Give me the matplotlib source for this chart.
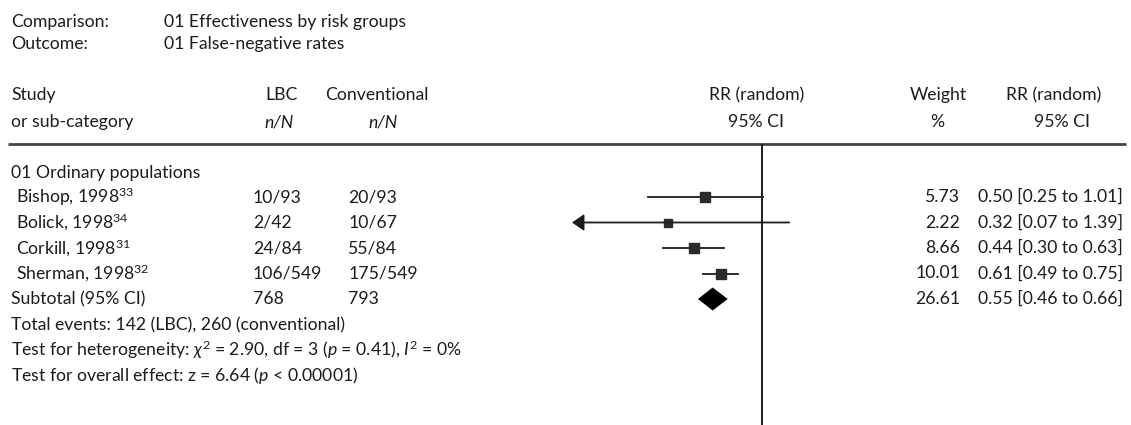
import matplotlib
matplotlib.use("Agg")
import matplotlib.pyplot as plt

plt.rcParams["font.family"] = ["Lato", "DejaVu Sans"]
plt.rcParams["mathtext.fontset"] = "custom"
plt.rcParams["mathtext.rm"] = "Lato"
plt.rcParams["mathtext.it"] = "Lato:italic"

# ------------------------------------------------------------------ data ----
studies = ["Bishop, 1998", "Bolick, 1998", "Corkill, 1998", "Sherman, 1998"]
refs = ["33", "34", "31", "32"]
lbc_n = [10, 2, 24, 106]
lbc_N = [93, 42, 84, 549]
conv_n = [20, 10, 55, 175]
conv_N = [93, 67, 84, 549]
rr = [0.50, 0.32, 0.44, 0.61]
rr_lo = [0.25, 0.07, 0.30, 0.49]
rr_hi = [1.01, 1.39, 0.63, 0.75]
weight = [5.73, 2.22, 8.66, 10.01]

sub_rr, sub_lo, sub_hi, sub_weight = 0.55, 0.46, 0.66, 26.61
sub_lbc_N, sub_conv_N = 768, 793
x_range = (0.1, 10)

# ---------------------------------------------------------------- layout ----
W, H = 1131, 425
FS = 12.7
INK = "#1c1c1c"

fig = plt.figure(figsize=(W / 100, H / 100), dpi=100)
bg = fig.add_axes([0, 0, 1, 1])
bg.set_xlim(0, W)
bg.set_ylim(H, 0)
bg.axis("off")


def txt(x, y, s, ha="left", **kw):
    bg.text(x, y, s, ha=ha, va="center", fontsize=FS, color=INK, **kw)


# header block
txt(11, 22, "Comparison:")
txt(164, 22, "01 Effectiveness by risk groups")
txt(11, 44, "Outcome:")
txt(164, 44, "01 False-negative rates")

txt(11, 95, "Study")
txt(11, 122, "or sub-category")
txt(298, 95, "LBC", ha="right")
txt(294, 122, "n/N", ha="right", style="italic")
txt(325, 95, "Conventional")
txt(398, 122, "n/N", ha="right", style="italic")
txt(757, 95, "RR (random)", ha="center")
txt(784, 122, "95% CI", ha="right")
txt(938, 95, "Weight", ha="center")
txt(937, 122, "%", ha="center")
txt(1054, 95, "RR (random)", ha="center")
txt(1090, 122, "95% CI", ha="right")

bg.plot([8, 1126], [144, 144], color="#444444", lw=2, solid_capstyle="butt")

# study rows
row0, step = 197, 25.5
txt(11, 173, "01 Ordinary populations")
for i, name in enumerate(studies):
    y = row0 + i * step
    txt(16, y, f"{name}$^{{\\mathrm{{{refs[i]}}}}}$")
    txt(253, y, f"{lbc_n[i]}/{lbc_N[i]}")
    txt(348, y, f"{conv_n[i]}/{conv_N[i]}")
    txt(960, y, f"{weight[i]:.2f}", ha="right")
    txt(978, y, f"{rr[i]:.2f} [{rr_lo[i]:.2f} to {rr_hi[i]:.2f}]")

y_sub = row0 + len(studies) * step
txt(11, y_sub, "Subtotal (95% CI)")
txt(253, y_sub, f"{sub_lbc_N}")
txt(348, y_sub, f"{sub_conv_N}")
txt(960, y_sub, f"{sub_weight:.2f}", ha="right")
txt(978, y_sub, f"{sub_rr:.2f} [{sub_lo:.2f} to {sub_hi:.2f}]")

txt(11, y_sub + 26, f"Total events: {sum(lbc_n)} (LBC), {sum(conv_n)} (conventional)")
txt(11, y_sub + 51, "Test for heterogeneity: $\\chi^2$ = 2.90, df = 3 ($p$ = 0.41), $I^2$ = 0%")
txt(11, y_sub + 76, "Test for overall effect: z = 6.64 ($p$ < 0.00001)")

# ---------------------------------------------------------------- forest ----
ax = fig.add_axes([572 / W, 0, (952 - 572) / W, 1])
ax.set_xscale("log")
ax.set_xlim(*x_range)
ax.set_ylim(H, 0)
ax.axis("off")
ax.patch.set_alpha(0)

ax.vlines(1, 144, H, color=INK, lw=1.4)

for i in range(len(studies)):
    y = row0 + i * step
    if rr_lo[i] < x_range[0]:
        ax.annotate("", xy=(x_range[0], y), xytext=(rr_hi[i], y),
                    arrowprops=dict(arrowstyle="-|>,head_length=0.72,head_width=0.5",
                                    mutation_scale=10, color=INK, lw=1.3,
                                    shrinkA=0, shrinkB=0))
    else:
        ax.plot([rr_lo[i], rr_hi[i]], [y, y], color=INK, lw=1.3)
    side_px = 8 + 0.25 * weight[i]
    ax.plot(rr[i], y, marker="s", ms=side_px * 0.72, color="#2a2a2a",
            mec="#2a2a2a", ls="none")

half = 11.5
ax.fill([sub_lo, sub_rr, sub_hi, sub_rr],
        [y_sub, y_sub - half, y_sub, y_sub + half], color="black", lw=0)

fig.savefig("out.png", dpi=100, facecolor="white")
